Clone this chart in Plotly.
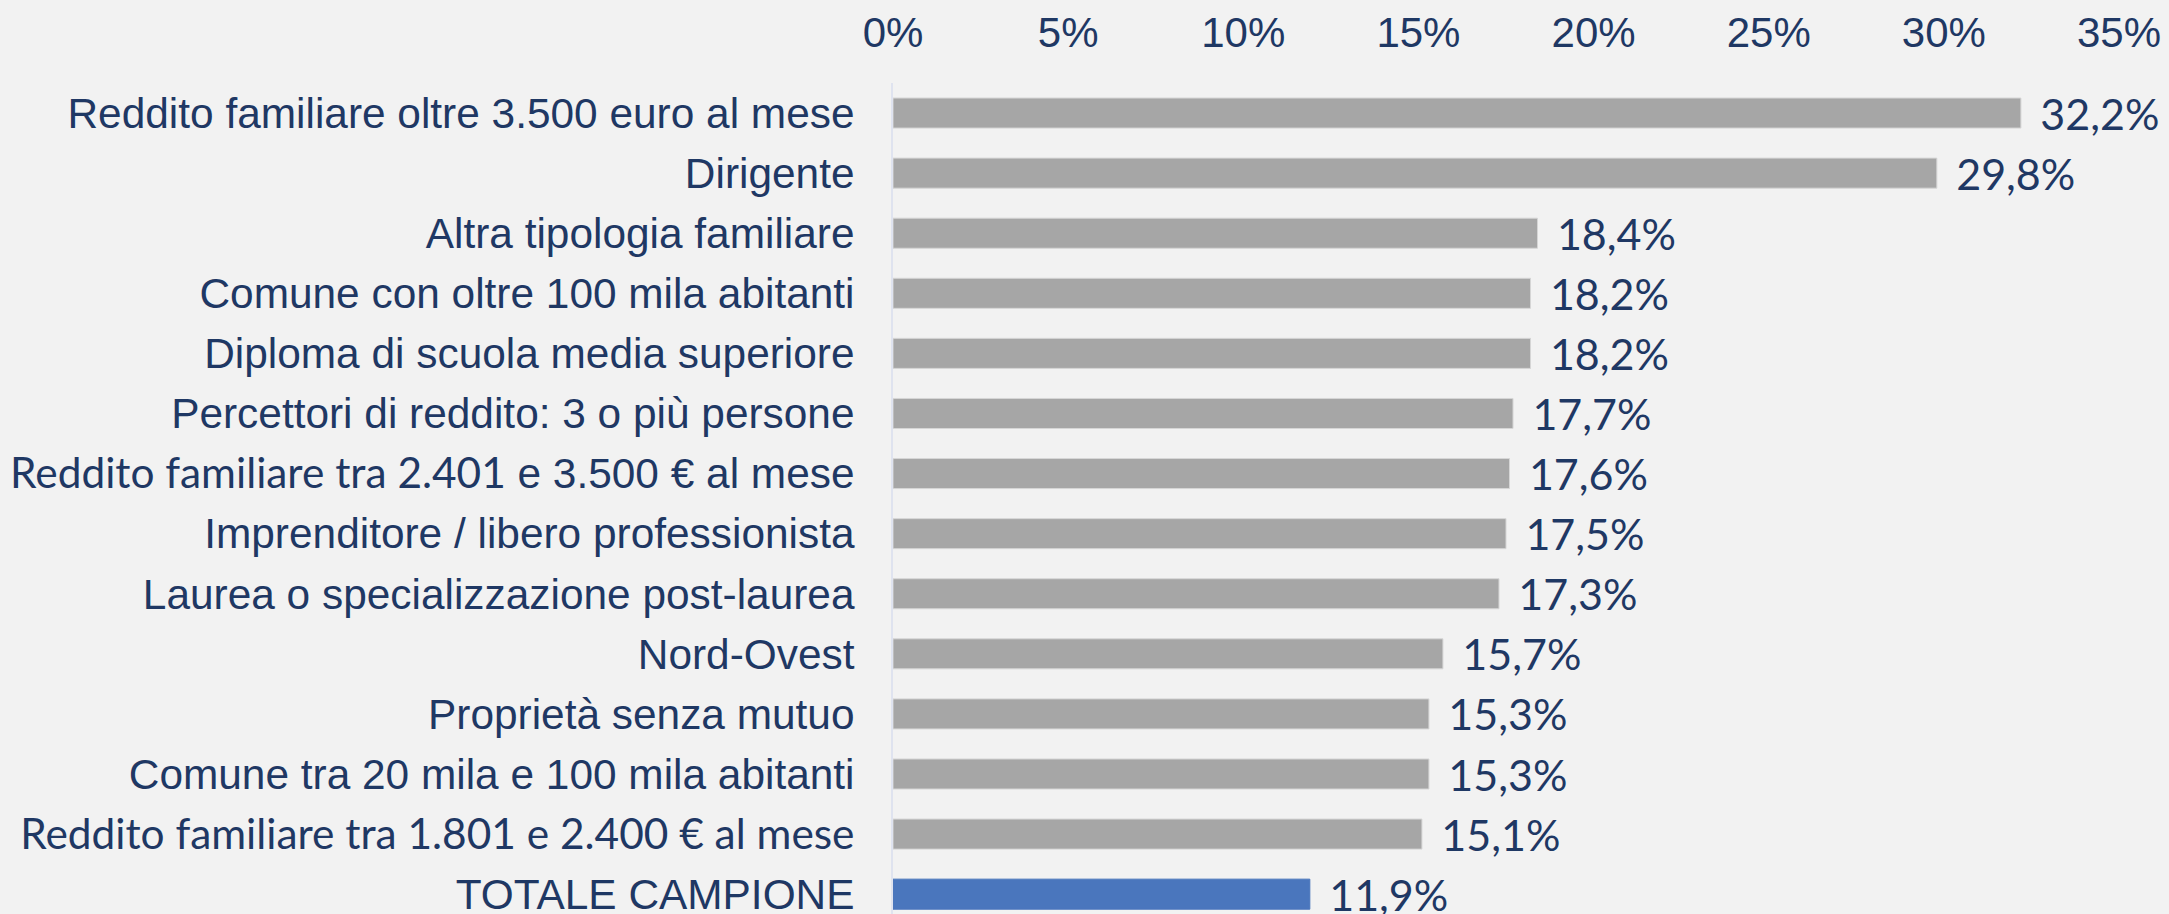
import plotly.graph_objects as go

# categorie dall'alto verso il basso
categorie = [
    "Reddito familiare oltre 3.500 euro al mese",
    "Dirigente",
    "Altra tipologia familiare",
    "Comune con oltre 100 mila abitanti",
    "Diploma di scuola media superiore",
    "Percettori di reddito: 3 o più persone",
    "<span style='font-family:Lato'>Reddito familiare tra 2.401</span> e 3.500 € al mese",
    "Imprenditore / libero professionista",
    "Laurea o specializzazione post-laurea",
    "Nord-Ovest",
    "Proprietà senza mutuo",
    "Comune tra 20 mila e 100 mila abitanti",
    "<span style='font-family:Lato'>Reddito familiare tra 1.801 e 2.400 € al mese</span>",
    "TOTALE CAMPIONE",
]
valori = [32.2, 29.8, 18.4, 18.2, 18.2, 17.7, 17.6, 17.5, 17.3, 15.7, 15.3, 15.3, 15.1, 11.9]

tick_valori = [0, 5, 10, 15, 20, 25, 30, 35]
tick_testi = ["0%", "5%", "10%", "15%", "20%", "25%", "30%", "35%"]

GRIGIO = "#a6a6a6"
BLU = "#4a76bd"
TESTO = "#1f3864"

colori = [BLU if c == "TOTALE CAMPIONE" else GRIGIO for c in categorie]
bordi = [BLU if c == "TOTALE CAMPIONE" else "#d6d6d6" for c in categorie]

fig = go.Figure(go.Bar(
    x=valori,
    y=categorie,
    orientation="h",
    width=0.5,
    marker=dict(color=colori, line=dict(color=bordi, width=1)),
    texttemplate=" \u2009%{x:.1f}%",
    textposition="outside",
    textfont=dict(family="Lato", size=43, color=TESTO),
    constraintext="none",
    cliponaxis=False,
    hoverinfo="skip",
))

fig.update_layout(
    width=2169,
    height=914,
    margin=dict(l=893, r=50, t=83, b=0, autoexpand=False),
    paper_bgcolor="#f2f2f2",
    plot_bgcolor="#f2f2f2",
    separators=",.",
    showlegend=False,
    font=dict(family="Liberation Sans", color=TESTO),
)

fig.update_xaxes(
    side="top",
    range=[0, 35],
    tickvals=tick_valori,
    ticktext=tick_testi,
    tickfont=dict(family="Liberation Sans", size=42, color=TESTO),
    showgrid=False,
    zeroline=False,
    showline=False,
    ticks="outside",
    ticklen=18,
    tickcolor="rgba(0,0,0,0)",
    automargin=False,
)

fig.update_yaxes(
    type="category",
    range=[13.33, -0.5],
    tickfont=dict(family="Liberation Sans", size=42.4, color=TESTO),
    showgrid=False,
    zeroline=False,
    showline=True,
    linecolor="#dfe3ef",
    linewidth=2,
    ticks="",
    ticklabelstandoff=28,
    automargin=False,
)

fig.write_html("out.html", config={"displayModeBar": False},
               post_script="document.body.style.margin='0';")
